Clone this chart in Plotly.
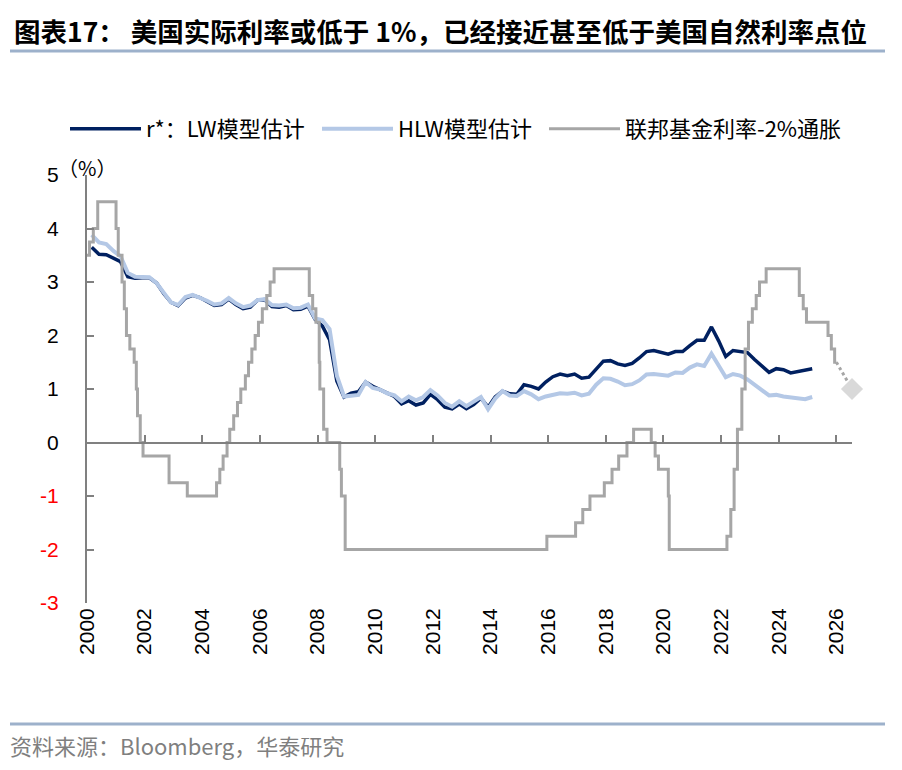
import pandas as pd
import plotly.graph_objects as go

# ---------------- data ----------------
quarter_start = "2000-03-01"
lw_rstar = [3.65, 3.52, 3.51, 3.44, 3.38, 3.10, 3.07, 3.08, 3.08, 2.98,
            2.78, 2.62, 2.56, 2.70, 2.75, 2.71, 2.63, 2.56, 2.58, 2.68,
            2.58, 2.50, 2.53, 2.66, 2.67, 2.54, 2.53, 2.56, 2.48, 2.49,
            2.55, 2.30, 2.18, 1.92, 1.15, 0.85, 0.92, 0.95, 1.13, 1.05,
            0.99, 0.92, 0.86, 0.72, 0.78, 0.70, 0.74, 0.90, 0.80, 0.66,
            0.63, 0.72, 0.63, 0.71, 0.83, 0.66, 0.85, 0.96, 0.91, 0.90,
            1.08, 1.05, 1.00, 1.13, 1.23, 1.28, 1.25, 1.28, 1.20, 1.22,
            1.36, 1.52, 1.53, 1.47, 1.44, 1.48, 1.58, 1.70, 1.72, 1.69,
            1.65, 1.70, 1.70, 1.81, 1.91, 1.91, 2.16, 1.90, 1.61, 1.72,
            1.70, 1.68, 1.55, 1.43, 1.31, 1.38, 1.36, 1.30, 1.33, 1.35,
            1.38]
hlw_rstar = [3.88, 3.74, 3.71, 3.58, 3.48, 3.17, 3.10, 3.10, 3.09, 2.98,
             2.79, 2.62, 2.57, 2.72, 2.76, 2.71, 2.65, 2.58, 2.60, 2.70,
             2.60, 2.53, 2.56, 2.66, 2.68, 2.57, 2.56, 2.58, 2.51, 2.52,
             2.58, 2.32, 2.29, 2.12, 1.25, 0.86, 0.87, 0.89, 1.13, 1.02,
             0.99, 0.92, 0.88, 0.77, 0.86, 0.79, 0.85, 0.98, 0.88, 0.74,
             0.67, 0.77, 0.68, 0.76, 0.85, 0.62, 0.82, 0.96, 0.88, 0.87,
             0.96, 0.90, 0.81, 0.86, 0.89, 0.92, 0.91, 0.93, 0.88, 0.91,
             1.08, 1.20, 1.19, 1.14, 1.07, 1.09, 1.16, 1.27, 1.28, 1.27,
             1.25, 1.31, 1.30, 1.40, 1.46, 1.43, 1.66, 1.44, 1.22, 1.28,
             1.25, 1.18, 1.07, 0.98, 0.88, 0.89, 0.86, 0.84, 0.83, 0.81,
             0.85]

fed_dates = ["2000-01-01", "2000-02-02", "2000-03-21", "2000-05-16",
             "2001-01-03", "2001-01-31", "2001-03-20", "2001-04-18", "2001-05-15",
             "2001-06-27", "2001-08-21", "2001-09-17", "2001-10-02", "2001-11-06",
             "2001-12-11", "2002-11-06", "2003-06-25", "2004-06-30", "2004-08-10",
             "2004-09-21", "2004-11-10", "2004-12-14", "2005-02-02", "2005-03-22",
             "2005-05-03", "2005-06-30", "2005-08-09", "2005-09-20", "2005-11-01",
             "2005-12-13", "2006-01-31", "2006-03-28", "2006-05-10", "2006-06-29",
             "2007-09-18", "2007-10-31", "2007-12-11", "2008-01-22", "2008-01-30",
             "2008-03-18", "2008-04-30", "2008-10-08", "2008-10-29", "2008-12-16",
             "2015-12-16", "2016-12-14", "2017-03-15", "2017-06-14", "2017-12-13",
             "2018-03-21", "2018-06-13", "2018-09-26", "2018-12-19", "2019-07-31",
             "2019-09-18", "2019-10-30", "2020-03-03", "2020-03-15", "2022-03-16",
             "2022-05-04", "2022-06-15", "2022-07-27", "2022-09-21", "2022-11-02",
             "2022-12-14", "2023-02-01", "2023-03-22", "2023-05-03", "2023-07-26",
             "2024-09-18", "2024-11-07", "2024-12-18", "2025-09-17", "2025-10-29",
             "2025-12-10", "2026-01-01"]
fed_real = [3.5, 3.75, 4.0, 4.5,
            4.0, 3.5, 3.0, 2.5, 2.0,
            1.75, 1.5, 1.0, 0.5, 0.0,
            -0.25, -0.75, -1.0, -0.75, -0.5,
            -0.25, 0.0, 0.25, 0.5, 0.75,
            1.0, 1.25, 1.5, 1.75, 2.0,
            2.25, 2.5, 2.75, 3.0, 3.25,
            2.75, 2.5, 2.25, 1.5, 1.0,
            0.25, 0.0, -0.5, -1.0, -2.0,
            -1.75, -1.5, -1.25, -1.0, -0.75,
            -0.5, -0.25, 0.0, 0.25, 0.0,
            -0.25, -0.5, -1.0, -2.0, -1.75,
            -1.25, -0.5, 0.25, 1.0, 1.75,
            2.25, 2.5, 2.75, 3.0, 3.25,
            2.75, 2.5, 2.25, 2.0, 1.75,
            1.5, 1.5]

fwd_dates = ["2026-01-01", "2026-07-18"]
fwd_values = [1.5, 1.0]

year_ticks = list(range(2000, 2027, 2))
y_ticks = [-3, -2, -1, 0, 1, 2, 3, 4, 5]

names = ["r*：LW模型估计", "HLW模型估计", "联邦基金利率-2%通胀"]
title_text = "图表17： 美国实际利率或低于 1%，已经接近甚至低于美国自然利率点位"
source_text = "资料来源：Bloomberg，华泰研究"

# ---------------- styling ----------------
C_LW = "#002060"
C_HLW = "#B4C8E6"
C_FED = "#A6A6A6"
C_AXIS = "#808080"
FONT = "Liberation Sans, Arial, Noto Sans CJK SC, sans-serif"
CJK = "Noto Sans CJK SC, Liberation Sans, sans-serif"

W, H = 902, 770
L, R, T, B = 87, 50, 175, 167
pw, ph = W - L - R, H - T - B


def px(x):
    return (x - L) / pw


def py(y):
    return (H - B - y) / ph


q_dates = pd.date_range(quarter_start, periods=len(lw_rstar), freq="3MS")

fig = go.Figure()
fig.add_trace(go.Scatter(x=q_dates, y=lw_rstar, mode="lines", name=names[0],
                         legend="legend",
                         line=dict(color=C_LW, width=3.5)))
fig.add_trace(go.Scatter(x=q_dates, y=hlw_rstar, mode="lines", name=names[1],
                         legend="legend2",
                         line=dict(color=C_HLW, width=4)))
fig.add_trace(go.Scatter(x=pd.to_datetime(fed_dates), y=fed_real, mode="lines",
                         name=names[2], legend="legend3",
                         line=dict(color=C_FED, width=3, shape="hv")))
fig.add_trace(go.Scatter(x=pd.to_datetime(fwd_dates), y=fwd_values, mode="lines",
                         showlegend=False, xaxis="x2",
                         line=dict(color=C_FED, width=3, dash="dot")))
fig.add_trace(go.Scatter(x=pd.to_datetime(fwd_dates[-1:]), y=fwd_values[-1:],
                         mode="markers", showlegend=False, cliponaxis=False,
                         xaxis="x2",
                         marker=dict(symbol="diamond", size=17, color="#D9D9D9")))

tick_dates = [pd.Timestamp(f"{y}-01-01") for y in year_ticks]
x_range = [pd.Timestamp("2000-01-01"), pd.Timestamp(fwd_dates[-1])]

y_text = [f'<span style="color:#FF0000">{v}</span>' if v < 0 else str(v) for v in y_ticks]


def legend_at(line_start):
    return dict(orientation="h", xref="container", yref="container",
                x=(line_start - 6) / W, y=1 - 108 / H, xanchor="left", yanchor="top",
                font=dict(family=CJK, size=22, color="#000000"),
                itemwidth=71, bgcolor="rgba(0,0,0,0)")


fig.update_layout(
    width=W, height=H,
    margin=dict(l=L, r=R, t=T, b=B, autoexpand=False),
    paper_bgcolor="white", plot_bgcolor="white",
    font=dict(family=FONT, size=21, color="#000000"),
    showlegend=True,
    legend=legend_at(71),
    legend2=legend_at(323),
    legend3=legend_at(550),
    xaxis=dict(type="date", range=x_range, tickvals=tick_dates, tickformat="%Y",
               tickangle=-90, ticks="", showline=False, showgrid=False,
               zeroline=False, automargin=False, tickfont=dict(size=21, family=FONT)),
    xaxis2=dict(type="date", overlaying="x", matches="x", anchor="free",
                position=(0 - y_ticks[0]) / (y_ticks[-1] - y_ticks[0]),
                tickvals=tick_dates, showticklabels=False, ticks="inside",
                ticklen=7, tickwidth=2, tickcolor=C_AXIS, showline=True,
                linecolor=C_AXIS, linewidth=2, showgrid=False, zeroline=False,
                automargin=False),
    yaxis=dict(range=[y_ticks[0], y_ticks[-1]], tickvals=y_ticks, ticktext=y_text,
               ticks="inside", ticklen=7, tickwidth=2, tickcolor=C_AXIS,
               showline=True, linecolor=C_AXIS, linewidth=2, showgrid=False,
               zeroline=False, ticklabelstandoff=22, automargin=False,
               tickfont=dict(size=21, family=FONT)),
)

fig.add_annotation(xref="paper", yref="paper", x=px(12), y=py(31),
                   xanchor="left", yanchor="middle", showarrow=False,
                   text="<b>" + title_text + "</b>",
                   font=dict(family=CJK, size=26.5, color="#000000"))
fig.add_annotation(xref="paper", yref="paper", x=px(56), y=py(167),
                   xanchor="left", yanchor="middle", showarrow=False,
                   text="（%）", font=dict(family=CJK, size=20, color="#000000"))
fig.add_annotation(xref="paper", yref="paper", x=px(8), y=py(745),
                   xanchor="left", yanchor="middle", showarrow=False,
                   text=source_text, font=dict(family=CJK, size=22, color="#7F7F7F"))

fig.add_shape(type="line", xref="paper", yref="paper", x0=px(10), x1=px(885),
              y0=py(51), y1=py(51), line=dict(color="#9DB1CB", width=3))
fig.add_shape(type="line", xref="paper", yref="paper", x0=px(10), x1=px(885),
              y0=py(724), y1=py(724), line=dict(color="#9DB1CB", width=3))

fig.write_html("out.html", config={"displayModeBar": False},
               post_script="document.body.style.margin='0';")
